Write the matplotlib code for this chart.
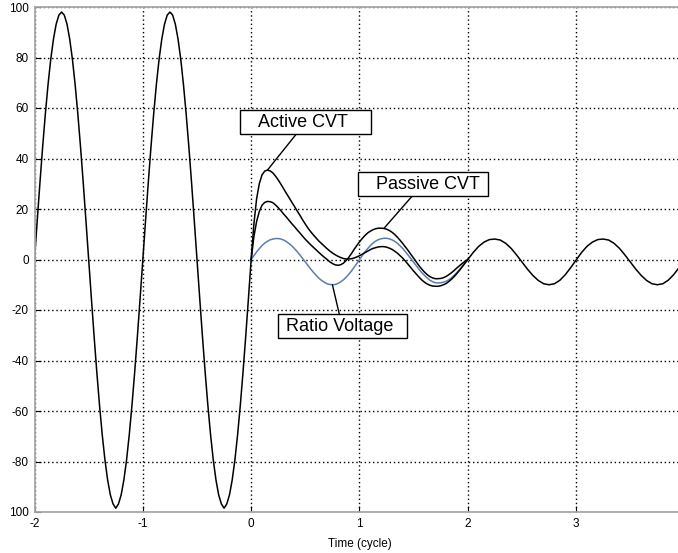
import numpy as np
import matplotlib
matplotlib.use("Agg")
import matplotlib.pyplot as plt

plt.rcParams['font.family'] = ['Liberation Sans', 'DejaVu Sans']

# pre-fault primary voltage, one sample every 1/40 cycle from -2 to 0
pre_time = np.linspace(-2, 0, 81)
pre_volt = [0, 15.3, 30.3, 44.5, 57.6, 69.3, 79.3, 87.3, 93.2, 96.8,
            98, 96.8, 93.2, 87.3, 79.3, 69.3, 57.6, 44.5, 30.3, 15.3,
            0, -15.3, -30.3, -44.5, -57.6, -69.3, -79.3, -87.3, -93.2, -96.8,
            -98.5, -96.8, -93.2, -87.3, -79.3, -69.3, -57.6, -44.5, -30.3, -15.3,
            0, 15.3, 30.3, 44.5, 57.6, 69.3, 79.3, 87.3, 93.2, 96.8,
            98, 96.8, 93.2, 87.3, 79.3, 69.3, 57.6, 44.5, 30.3, 15.3,
            0, -15.3, -30.3, -44.5, -57.6, -69.3, -79.3, -87.3, -93.2, -96.8,
            -98.5, -96.8, -93.2, -87.3, -79.3, -69.3, -57.6, -44.5, -30.3, -15.3,
            0]

# after the fault, one sample every 1/40 cycle from 0 to 2
post_time = np.linspace(0, 2, 81)
active_cvt = [0, 14, 24, 30, 33.5, 35, 35.4, 35.1, 34.3, 33,
              31.5, 29.8, 28, 26.2, 24.5, 22.7, 21, 19.2, 17.5, 15.7,
              14, 12.4, 11, 9.7, 8.5, 7.3, 6.3, 5.3, 4.3, 3.4,
              2.6, 1.9, 1.3, 0.8, 0.4, 0.2, 0.2, 0.3, 0.6, 1.0,
              1.5, 2.1, 2.7, 3.3, 3.9, 4.4, 4.7, 5.0, 5.1, 5.1,
              4.9, 4.5, 4.0, 3.3, 2.5, 1.5, 0.5, -0.7, -2.0, -3.3,
              -4.6, -5.8, -7.0, -8.1, -9.0, -9.7, -10.2, -10.5, -10.6, -10.6,
              -10.4, -10.0, -9.5, -8.7, -7.8, -6.7, -5.5, -4.2, -2.8, -1.4,
              0]
passive_cvt = [0, 9, 15, 19, 21.5, 22.6, 23, 22.9, 22.5, 21.6,
               20.5, 19.3, 18, 16.8, 15.5, 14.2, 13, 11.7, 10.5, 9.2,
               8, 6.9, 5.8, 4.8, 3.8, 2.8, 1.8, 0.9, 0.0, -0.9,
               -1.6, -2.1, -2.3, -2.1, -1.5, -0.5, 0.8, 2.3, 4.0, 5.5,
               7.0, 8.3, 9.5, 10.5, 11.2, 11.8, 12.2, 12.4, 12.4, 12.3,
               12.0, 11.5, 10.8, 9.9, 8.8, 7.6, 6.3, 4.9, 3.5, 2.0,
               0.5, -1.0, -2.5, -3.8, -5.0, -6.0, -6.8, -7.3, -7.6, -7.6,
               -7.5, -7.2, -6.7, -6.0, -5.2, -4.3, -3.3, -2.4, -1.5, -0.7,
               0]
ratio_volt = [0, 1.5, 3.0, 4.3, 5.5, 6.5, 7.2, 7.8, 8.1, 8.3,
              8.3, 8.1, 7.7, 7.1, 6.3, 5.4, 4.3, 3.1, 1.8, 0.4,
              -1.0, -2.4, -3.8, -5.1, -6.3, -7.4, -8.3, -9.0, -9.6, -9.9,
              -10.0, -9.9, -9.5, -8.9, -8.1, -7.1, -5.9, -4.6, -3.1, -1.6,
              0, 1.5, 3.0, 4.3, 5.5, 6.5, 7.3, 7.9, 8.2, 8.4,
              8.4, 8.2, 7.8, 7.2, 6.4, 5.4, 4.3, 3.0, 1.7, 0.3,
              -1.1, -2.5, -3.9, -5.2, -6.3, -7.3, -8.2, -8.8, -9.2, -9.3,
              -9.2, -9.0, -8.6, -8.0, -7.2, -6.2, -5.1, -3.9, -2.6, -1.3,
              0]

# steady state once all three agree, every 1/20 cycle from 2 to 4
steady_time = np.linspace(2, 4, 41)
steady_volt = [0, 2.8, 5.2, 6.9, 7.9, 8.1, 7.7, 6.4, 4.4, 1.8,
               -1, -3.8, -6.3, -8.3, -9.6, -10, -9.6, -8.2, -6, -3.2,
               -0.2, 2.8, 5.2, 6.9, 7.9, 8.1, 7.7, 6.4, 4.4, 1.8,
               -1, -3.8, -6.3, -8.3, -9.6, -10, -9.6, -8.2, -6, -3.2,
               -0.2]

x_ticks = [-2, -1, 0, 1, 2, 3, 4]
x_labels = ['-2', '-1', '0', '1', '2', '3', '4']
y_ticks = [100, 80, 60, 40, 20, 0, -20, -40, -60, -80, -100]
y_labels = ['100', '80', '60', '40', '20', '0', '-20', '-40', '-60', '-80', '100']

fig = plt.figure(figsize=(6.78, 5.53), dpi=100)
ax = fig.add_axes([34.5 / 678, 41 / 553, 650 / 678, 505 / 553])

blue = '#5b7db0'
ax.plot(post_time, ratio_volt, color=blue, lw=1.1)
ax.plot(pre_time, pre_volt, color='black', lw=1.1)
ax.plot(post_time, active_cvt, color='black', lw=1.1)
ax.plot(post_time, passive_cvt, color='black', lw=1.1)
ax.plot(steady_time, steady_volt, color='black', lw=1.1)

ax.set_xlim(-2, 4)
ax.set_ylim(-100, 100)
ax.set_xticks(x_ticks)
ax.set_xticklabels(x_labels)
ax.set_yticks(y_ticks)
ax.set_yticklabels(y_labels)
ax.tick_params(direction='in', length=4, width=0.8, labelsize=8.5, pad=4)
ax.grid(True, color='black', linestyle=(0, (1, 2)), lw=1.0)
for s in ax.spines.values():
    s.set_color('#a8a8a8')
    s.set_linewidth(1.3)
ax.set_xlabel('Time (cycle)', fontsize=8.5, labelpad=6)

box = dict(boxstyle='square,pad=0.19', fc='white', ec='black', lw=1.0)
arrow = dict(arrowstyle='-', color='black', lw=1.0, shrinkA=0, shrinkB=0)
ax.annotate('   Active CVT    ', xy=(post_time[6], active_cvt[6]), xytext=(0.503, 54.3),
            ha='center', va='center', fontsize=13, bbox=box, arrowprops=arrow)
ax.annotate('   Passive CVT ', xy=(post_time[49], passive_cvt[49]), xytext=(1.584, 29.9),
            ha='center', va='center', fontsize=13, bbox=box, arrowprops=arrow)
ax.annotate(' Ratio Voltage  ', xy=(post_time[30], ratio_volt[30]), xytext=(0.84, -26.5),
            ha='center', va='center', fontsize=13, bbox=box, arrowprops=arrow)

fig.savefig('out.png', dpi=100)
